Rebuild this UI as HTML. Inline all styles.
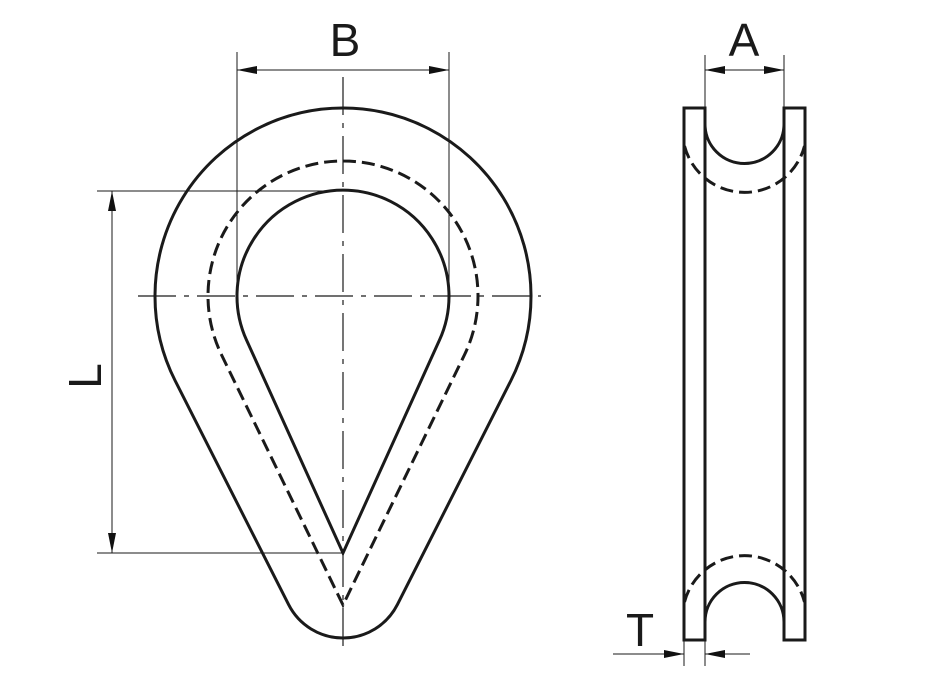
<!DOCTYPE html>
<html><head><meta charset="utf-8"><style>
html,body{margin:0;padding:0;background:#fff;}
svg{display:block;}
text{font-family:"Liberation Sans",sans-serif;fill:#1a1a1a;}
</style></head><body>
<svg width="936" height="678" viewBox="0 0 936 678" xmlns="http://www.w3.org/2000/svg">
<defs>
<marker id="ar" markerWidth="20" markerHeight="8" refX="20" refY="4" orient="auto" markerUnits="userSpaceOnUse">
<path d="M0,0 L20,4 L0,8 Z" fill="#111"/>
</marker>
</defs>
<g fill="none" stroke="#1a1a1a">
<!-- front view -->
<path d="M288.6 604.6 L175.3 381 A188 188 0 1 1 510.7 381 L397.4 604.6 A61 61 0 0 1 288.6 604.6 Z" stroke-width="3"/>
<path d="M343 553 L246.5 340 A106 106 0 1 1 439.5 340 Z" stroke-width="3"/>
<path d="M343 605 L221.6 355 A135 135 0 1 1 464.4 355 Z" stroke-width="3" stroke-dasharray="13,6"/>
<!-- centerlines -->
<line x1="138" y1="296" x2="541" y2="296" stroke-width="1.2" stroke-dasharray="38,8,5,8"/>
<line x1="343" y1="77" x2="343" y2="652" stroke-width="1.2" stroke-dasharray="38,8,5,8"/>
<!-- B dimension -->
<line x1="237" y1="52" x2="237" y2="296" stroke-width="1"/>
<line x1="449" y1="52" x2="449" y2="296" stroke-width="1"/>
<line x1="343" y1="70" x2="449" y2="70" stroke-width="1" marker-end="url(#ar)"/>
<line x1="343" y1="70" x2="237" y2="70" stroke-width="1" marker-end="url(#ar)"/>
<!-- L dimension -->
<line x1="97" y1="191" x2="343" y2="191" stroke-width="1"/>
<line x1="97" y1="553" x2="343" y2="553" stroke-width="1"/>
<line x1="112" y1="370" x2="112" y2="191" stroke-width="1" marker-end="url(#ar)"/>
<line x1="112" y1="370" x2="112" y2="553" stroke-width="1" marker-end="url(#ar)"/>
<!-- side view -->
<rect x="684" y="108" width="21" height="532" stroke-width="3"/>
<rect x="784" y="108" width="21" height="532" stroke-width="3"/>
<path d="M705 124 A39.5 39.5 0 0 0 784 124" stroke-width="3"/>
<path d="M684.5 146 A62 62 0 0 0 804.5 146" stroke-width="3" stroke-dasharray="13,6"/>
<path d="M705 622 A39.5 39.5 0 0 1 784 622" stroke-width="3"/>
<path d="M684.5 602 A62 62 0 0 1 804.5 602" stroke-width="3" stroke-dasharray="13,6"/>
<!-- A dimension -->
<line x1="705" y1="55" x2="705" y2="108" stroke-width="1"/>
<line x1="784" y1="55" x2="784" y2="108" stroke-width="1"/>
<line x1="744" y1="70" x2="705" y2="70" stroke-width="1" marker-end="url(#ar)"/>
<line x1="744" y1="70" x2="784" y2="70" stroke-width="1" marker-end="url(#ar)"/>
<!-- T dimension -->
<line x1="684" y1="640" x2="684" y2="666" stroke-width="1"/>
<line x1="705" y1="640" x2="705" y2="666" stroke-width="1"/>
<line x1="613" y1="654" x2="684" y2="654" stroke-width="1" marker-end="url(#ar)"/>
<line x1="750" y1="654" x2="705" y2="654" stroke-width="1" marker-end="url(#ar)"/>
</g>
<text x="345" y="56" font-size="46" text-anchor="middle">B</text>
<text x="744" y="56" font-size="46" text-anchor="middle">A</text>
<text x="640" y="646" font-size="46" text-anchor="middle">T</text>
<text x="0" y="0" font-size="46" text-anchor="middle" transform="translate(101,376) rotate(-90)">L</text>
</svg>
</body></html>
